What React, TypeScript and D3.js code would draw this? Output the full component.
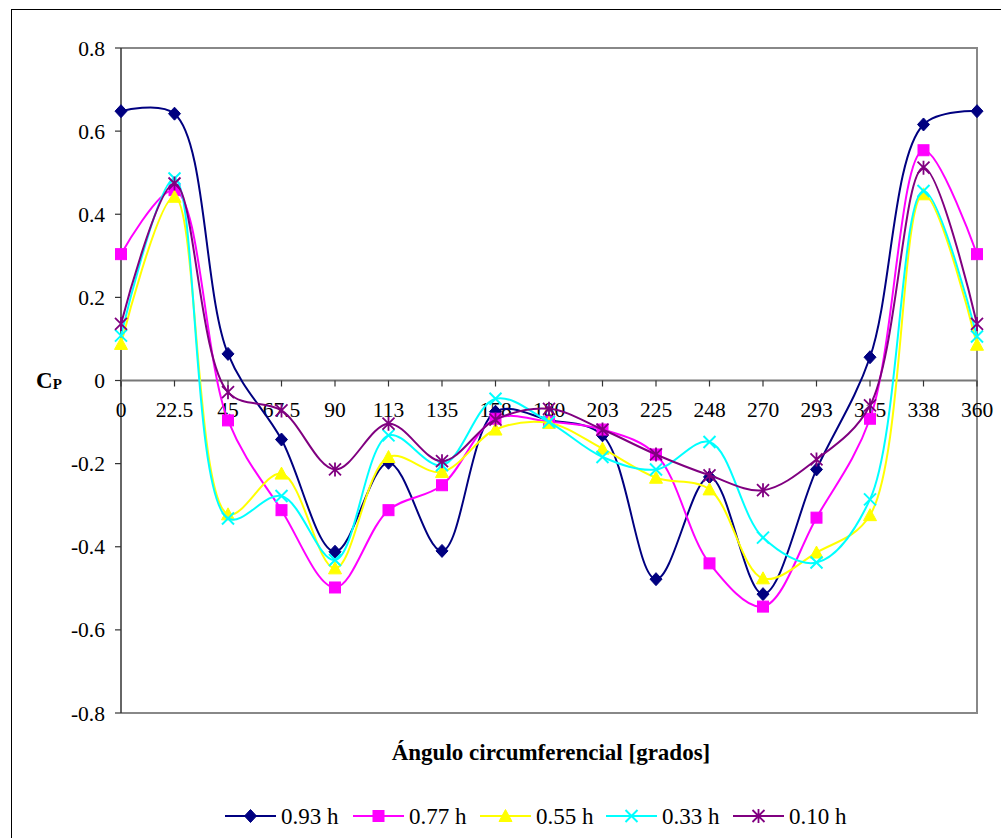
import React from "react";
import * as d3 from "d3";

const categories = ["0", "22.5", "45", "67.5", "90", "113", "135", "158", "180", "203", "225", "248", "270", "293", "315", "338", "360"];
const s093 = [0.648, 0.642, 0.064, -0.142, -0.412, -0.198, -0.41, -0.075, -0.095, -0.132, -0.478, -0.232, -0.514, -0.214, 0.056, 0.616, 0.648];
const s077 = [0.304, 0.458, -0.096, -0.312, -0.498, -0.312, -0.252, -0.092, -0.099, -0.118, -0.178, -0.44, -0.544, -0.33, -0.092, 0.554, 0.304];
const s055 = [0.088, 0.442, -0.322, -0.224, -0.452, -0.184, -0.22, -0.118, -0.102, -0.164, -0.234, -0.262, -0.476, -0.414, -0.324, 0.448, 0.086];
const s033 = [0.108, 0.486, -0.332, -0.278, -0.432, -0.132, -0.204, -0.044, -0.1, -0.184, -0.214, -0.148, -0.378, -0.438, -0.286, 0.456, 0.106];
const s010 = [0.136, 0.474, -0.028, -0.072, -0.214, -0.104, -0.194, -0.094, -0.068, -0.118, -0.178, -0.228, -0.264, -0.19, -0.06, 0.512, 0.136];
const yTicks = [0.8, 0.6, 0.4, 0.2, 0, -0.2, -0.4, -0.6, -0.8];
const yTickLabels = ["0.8", "0.6", "0.4", "0.2", "0", "-0.2", "-0.4", "-0.6", "-0.8"];

const seriesNames = ["0.93 h", "0.77 h", "0.55 h", "0.33 h", "0.10 h"];
const seriesValues = [s093, s077, s055, s033, s010];
const seriesColors = ["#000080", "#FF00FF", "#FFFF00", "#00FFFF", "#800080"];
const seriesMarkers = ["diamond", "square", "triangle", "x", "star"];

const FONT = '"Liberation Serif"';

function Marker({ type, x, y, color }: { type: string; x: number; y: number; color: string }) {
  const r = 6;
  if (type === "diamond") {
    return <path d={`M${x},${y - r - 0.5}L${x + r},${y}L${x},${y + r + 0.5}L${x - r},${y}Z`} fill={color} stroke={color} strokeWidth={1} />;
  }
  if (type === "square") {
    return <rect x={x - 5.5} y={y - 5.5} width={11} height={11} fill={color} stroke={color} strokeWidth={1} />;
  }
  if (type === "triangle") {
    return <path d={`M${x},${y - 6.5}L${x + 6.5},${y + 5.5}L${x - 6.5},${y + 5.5}Z`} fill={color} stroke={color} strokeWidth={1} />;
  }
  if (type === "x") {
    return <path d={`M${x - r},${y - r}L${x + r},${y + r}M${x - r},${y + r}L${x + r},${y - r}`} stroke={color} strokeWidth={2} fill="none" />;
  }
  return (
    <path
      d={`M${x - r},${y - r}L${x + r},${y + r}M${x - r},${y + r}L${x + r},${y - r}M${x},${y - r - 1}L${x},${y + r + 1}`}
      stroke={color}
      strokeWidth={1.8}
      fill="none"
    />
  );
}

export default function App() {
  const left = 121;
  const right = 977;
  const top = 48;
  const bottom = 713;

  const x = d3.scalePoint<string>().domain(categories).range([left, right]);
  const y = d3.scaleLinear().domain([-0.8, 0.8]).range([bottom, top]);
  const y0 = y(0);

  const line = d3
    .line<number>()
    .x((_, i) => x(categories[i]) as number)
    .y((v) => y(v))
    .curve(d3.curveCatmullRom.alpha(0.5));

  const legendStarts = [225, 353, 480, 606, 733];
  const legendY = 816;

  const ts = { fontFamily: FONT };

  return (
    <svg width={1001} height={838} style={{ position: "absolute", left: 0, top: 0, background: "#fff" }}>
      <rect x={0} y={0} width={1001} height={838} fill="#fff" />
      <rect x={11.5} y={9.5} width={1010} height={850} fill="none" stroke="#000" strokeWidth={1} />

      {/* plot border */}
      <path d={`M${left},${top}H${right}V${bottom}H${left}`} fill="none" stroke="#888" strokeWidth={2} />

      {/* y axis */}
      <line x1={left} y1={top} x2={left} y2={bottom} stroke="#333" strokeWidth={1.5} />
      {yTicks.map((t, i) => (
        <g key={t}>
          <line x1={left - 6} x2={left} y1={y(t)} y2={y(t)} stroke="#333" strokeWidth={1.2} />
          <text x={left - 16} y={y(t)} dy="0.35em" textAnchor="end" fontSize={21.5} fill="#000" style={ts}>
            {yTickLabels[i]}
          </text>
        </g>
      ))}

      {/* x axis at zero */}
      <line x1={left} x2={right} y1={y0} y2={y0} stroke="#777" strokeWidth={2} />
      {categories.map((c) => (
        <g key={c}>
          <line x1={x(c)} x2={x(c)} y1={y0} y2={y0 + 6} stroke="#333" strokeWidth={1.2} />
          <text x={x(c)} y={y0 + 36} textAnchor="middle" fontSize={21.5} fill="#000" style={ts}>
            {c}
          </text>
        </g>
      ))}

      {/* series */}
      {seriesValues.map((vals, si) => (
        <g key={seriesNames[si]}>
          <path d={line(vals) || ""} fill="none" stroke={seriesColors[si]} strokeWidth={2} />
          {vals.map((v, i) => (
            <Marker key={i} type={seriesMarkers[si]} x={x(categories[i]) as number} y={y(v)} color={seriesColors[si]} />
          ))}
        </g>
      ))}

      {/* y label */}
      <text x={36} y={y0 + 7} fontSize={23} fontWeight="bold" fill="#000" style={ts}>
        C<tspan fontSize={15} dy={1}>P</tspan>
      </text>

      {/* x title */}
      <text x={551} y={760} textAnchor="middle" fontSize={23} fontWeight="bold" fill="#000" style={ts}>
        Ángulo circumferencial [grados]
      </text>

      {/* legend */}
      {legendStarts.map((lx, i) => (
        <g key={seriesNames[i]}>
          <line x1={lx} x2={lx + 51} y1={legendY} y2={legendY} stroke={seriesColors[i]} strokeWidth={2} />
          <Marker type={seriesMarkers[i]} x={lx + 25.5} y={legendY} color={seriesColors[i]} />
          <text x={lx + 56} y={legendY} dy="0.35em" fontSize={23} fill="#000" style={ts}>
            {seriesNames[i]}
          </text>
        </g>
      ))}
    </svg>
  );
}
